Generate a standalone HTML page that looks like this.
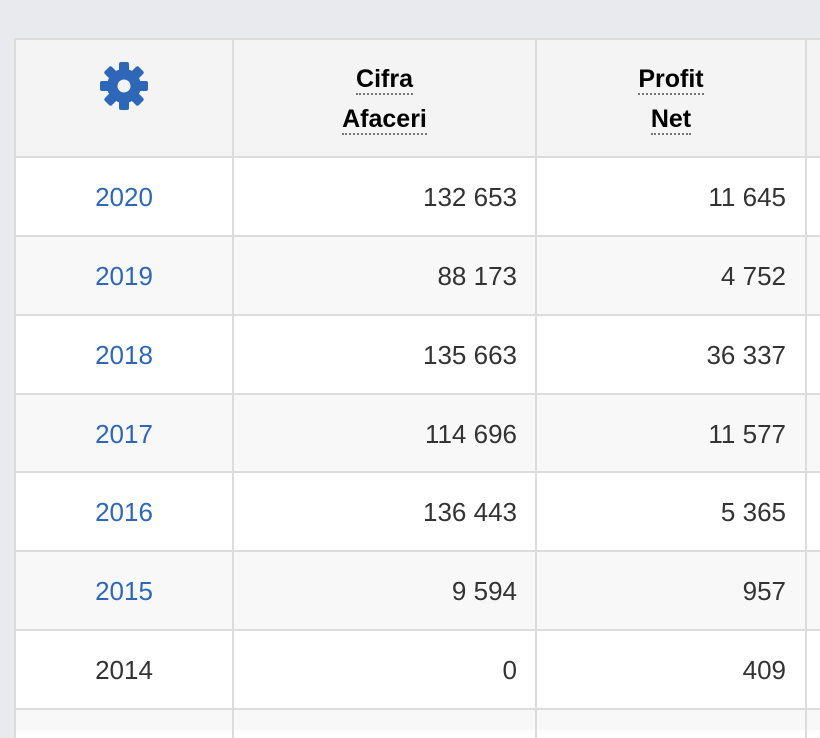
<!DOCTYPE html>
<html><head><style>
body{margin:0;width:820px;height:722px;overflow:hidden;background:#e9eaee;font-family:"Liberation Sans",Arial,Helvetica,sans-serif;position:relative}
.t{position:absolute;left:14px;top:38px;width:820px;height:700px;background:#fff}
.r{position:absolute;left:14px;width:820px}
.h{position:absolute;height:2px;left:14px;width:820px;background:#dcdcdc}
.v{position:absolute;width:2px;top:38px;height:700px;background:#dcdcdc}
.c{position:absolute;font-size:26px;color:#333;line-height:30px}
.y{color:#2f67b8;text-align:center;width:218px;left:15px}
.n{text-align:right}
.hd{position:absolute;font-weight:bold;font-size:25px;color:#000;text-align:center;line-height:40px}
.hd span{border-bottom:2px dotted #777;padding-bottom:0px}
</style></head><body>
<div class="t"></div>
<div class="r" style="top:40px;height:117px;background:#f4f4f4"></div>
<div class="r" style="top:237px;height:78px;background:#f8f8f8"></div>
<div class="r" style="top:395px;height:78px;background:#f8f8f8"></div>
<div class="r" style="top:552px;height:78px;background:#f8f8f8"></div>
<div class="r" style="top:710px;height:20px;background:#f8f8f8"></div>
<div class="h" style="top:38px"></div>
<div class="h" style="top:156px"></div>
<div class="h" style="top:235px"></div>
<div class="h" style="top:314px"></div>
<div class="h" style="top:393px"></div>
<div class="h" style="top:471px"></div>
<div class="h" style="top:550px"></div>
<div class="h" style="top:629px"></div>
<div class="h" style="top:708px"></div>
<div class="v" style="left:14px"></div>
<div class="v" style="left:232px"></div>
<div class="v" style="left:535px"></div>
<div class="v" style="left:805px"></div>
<svg style="position:absolute;left:100px;top:62px" width="48" height="48" viewBox="0 0 48 48">
<g fill="#2f67b8" transform="translate(24,24)">
<circle r="17"/>
<g id="k"><rect x="-5" y="-24" width="10" height="10" rx="2"/></g>
<use href="#k" transform="rotate(45)"/><use href="#k" transform="rotate(90)"/><use href="#k" transform="rotate(135)"/>
<use href="#k" transform="rotate(180)"/><use href="#k" transform="rotate(225)"/><use href="#k" transform="rotate(270)"/><use href="#k" transform="rotate(315)"/>
<circle r="6.5" fill="#f4f4f4"/>
</g></svg>
<div class="hd" style="left:234px;width:301px;top:59px"><span>Cifra</span><br><span>Afaceri</span></div>
<div class="hd" style="left:537px;width:268px;top:59px"><span>Profit</span><br><span>Net</span></div>

<div class="c y" style="top:182px">2020</div>
<div class="c n" style="left:240px;width:277px;top:182px">132 653</div>
<div class="c n" style="left:540px;width:246px;top:182px">11 645</div>

<div class="c y" style="top:261px">2019</div>
<div class="c n" style="left:240px;width:277px;top:261px">88 173</div>
<div class="c n" style="left:540px;width:246px;top:261px">4 752</div>

<div class="c y" style="top:340px">2018</div>
<div class="c n" style="left:240px;width:277px;top:340px">135 663</div>
<div class="c n" style="left:540px;width:246px;top:340px">36 337</div>

<div class="c y" style="top:419px">2017</div>
<div class="c n" style="left:240px;width:277px;top:419px">114 696</div>
<div class="c n" style="left:540px;width:246px;top:419px">11 577</div>

<div class="c y" style="top:497px">2016</div>
<div class="c n" style="left:240px;width:277px;top:497px">136 443</div>
<div class="c n" style="left:540px;width:246px;top:497px">5 365</div>

<div class="c y" style="top:576px">2015</div>
<div class="c n" style="left:240px;width:277px;top:576px">9 594</div>
<div class="c n" style="left:540px;width:246px;top:576px">957</div>

<div class="c y" style="top:655px;color:#333">2014</div>
<div class="c n" style="left:240px;width:277px;top:655px">0</div>
<div class="c n" style="left:540px;width:246px;top:655px">409</div>
</body></html>
